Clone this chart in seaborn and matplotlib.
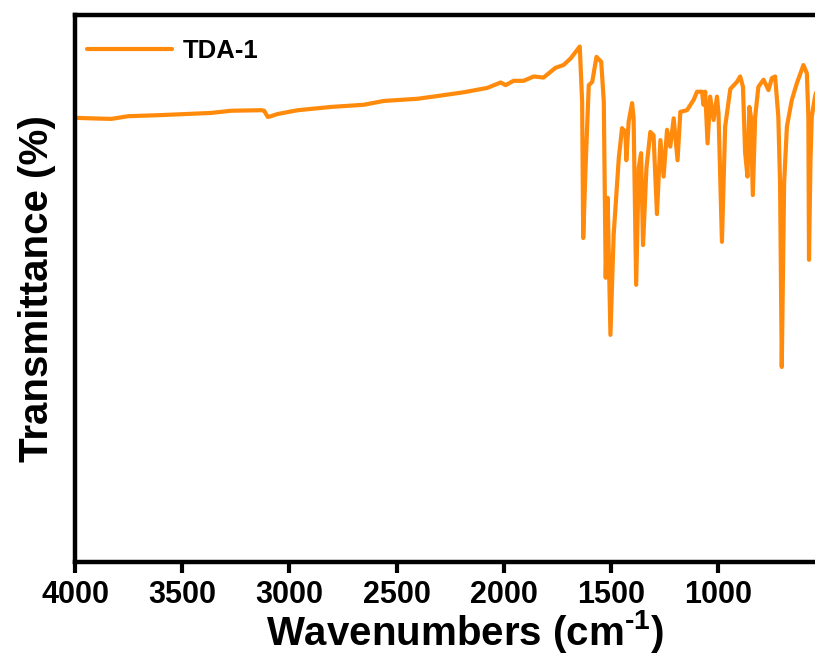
import matplotlib
matplotlib.use("Agg")
import matplotlib.pyplot as plt
import seaborn as sns
import pandas as pd

wavenumber = [4000, 3924, 3831, 3751, 3598, 3365, 3272, 3132, 3118, 3101, 3086, 3055, 2961, 2806,
              2653, 2560, 2403, 2310, 2187, 2077, 2015, 1992, 1955, 1908, 1861, 1815, 1759, 1722,
              1689, 1646, 1635, 1630, 1619, 1604, 1588, 1568, 1546, 1534, 1529, 1525, 1516, 1503,
              1488, 1464, 1449, 1433, 1429, 1418, 1402, 1395, 1383, 1371, 1360, 1351, 1335, 1317,
              1302, 1286, 1270, 1255, 1239, 1224, 1208, 1190, 1177, 1146, 1115, 1099, 1076, 1069,
              1061, 1050, 1038, 1022, 1006, 999, 983, 968, 944, 913, 898, 885, 875, 864, 855, 848,
              839, 828, 813, 789, 766, 750, 735, 720, 712, 704, 693, 680, 657, 634, 603, 587, 580,
              577, 570, 564, 549, 535]
transmittance = [81.1, 81.0, 80.9, 81.4, 81.6, 82.0, 82.4, 82.5, 82.4, 81.25, 81.4, 81.8, 82.5, 83.1,
                 83.5, 84.2, 84.6, 85.1, 85.8, 86.6, 87.6, 87.1, 87.9, 87.9, 88.7, 88.5, 90.3, 90.8,
                 92.0, 94.2, 84.1, 59.0, 71.9, 87.1, 87.7, 92.3, 91.4, 84.1, 66.0, 51.7, 66.4, 41.2,
                 59.6, 73.7, 79.2, 78.5, 73.3, 80.4, 83.8, 81.1, 50.4, 71.9, 74.6, 57.7, 71.9, 78.5,
                 77.9, 63.4, 77.0, 70.3, 78.9, 75.8, 81.0, 73.3, 82.2, 82.5, 84.4, 85.9, 85.9, 83.5,
                 85.9, 76.4, 85.0, 80.7, 85.0, 82.0, 58.3, 79.5, 86.4, 87.7, 88.7, 86.8, 74.8, 70.3,
                 83.1, 81.3, 66.9, 81.3, 86.8, 88.1, 86.2, 88.4, 88.7, 81.3, 69.1, 35.3, 69.1, 79.5,
                 84.4, 87.4, 90.8, 89.3, 81.3, 55.0, 73.3, 81.3, 85.0, 87.1]
series_name = "TDA-1"
x_ticks = [4000, 3500, 3000, 2500, 2000, 1500, 1000]

sns.set_style("ticks")
plt.rcParams["font.family"] = ["Liberation Sans", "DejaVu Sans"]
plt.rcParams["font.weight"] = "bold"
plt.rcParams["text.color"] = "black"
plt.rcParams["axes.labelcolor"] = "black"
plt.rcParams["xtick.color"] = "black"
plt.rcParams["mathtext.fontset"] = "custom"
plt.rcParams["mathtext.rm"] = "Liberation Sans:bold"
plt.rcParams["mathtext.bf"] = "Liberation Sans:bold"
plt.rcParams["mathtext.default"] = "bf"

df = pd.DataFrame({"Wavenumber": wavenumber, "Transmittance": transmittance, "Sample": series_name})

fig = plt.figure(figsize=(8.15, 6.58), dpi=100)
ax = fig.add_axes([75 / 815, (658 - 562) / 658, 1 - 75 / 815, (562 - 15) / 658])

sns.lineplot(data=df, x="Wavenumber", y="Transmittance", hue="Sample",
             palette=["#FF8A0C"], linewidth=3.0, estimator=None, sort=False, ax=ax)

ax.set_xlim(4000, 549)
ax.set_ylim(-0.55, 100)
ax.set_xticks(x_ticks)
ax.set_xticklabels([str(t) for t in x_ticks])
ax.set_yticks([])
ax.tick_params(axis="x", direction="out", length=8, width=3.0, labelsize=22, pad=5,
               colors="black")
for lab in ax.get_xticklabels():
    lab.set_fontweight("bold")

for side in ["left", "bottom", "top"]:
    ax.spines[side].set_linewidth(3.2)
    ax.spines[side].set_color("black")
ax.spines["right"].set_visible(False)

ax.set_xlabel(r"Wavenumbers (cm$^{\text{-1}}$)", fontsize=29, fontweight="bold", labelpad=0)
ax.xaxis.set_label_coords((465 - 75) / 740, -0.085)
ax.set_ylabel("Transmittance (%)", fontsize=29, fontweight="bold", labelpad=14)

leg = ax.legend(loc="upper left", frameon=False, handlelength=3.3, handletextpad=0.45,
                borderpad=0, borderaxespad=0, bbox_to_anchor=(0.016, 0.956),
                prop={"size": 18.5, "weight": "bold"})
for h in leg.get_lines():
    h.set_linewidth(3.0)

fig.savefig("out.png", dpi=100)
